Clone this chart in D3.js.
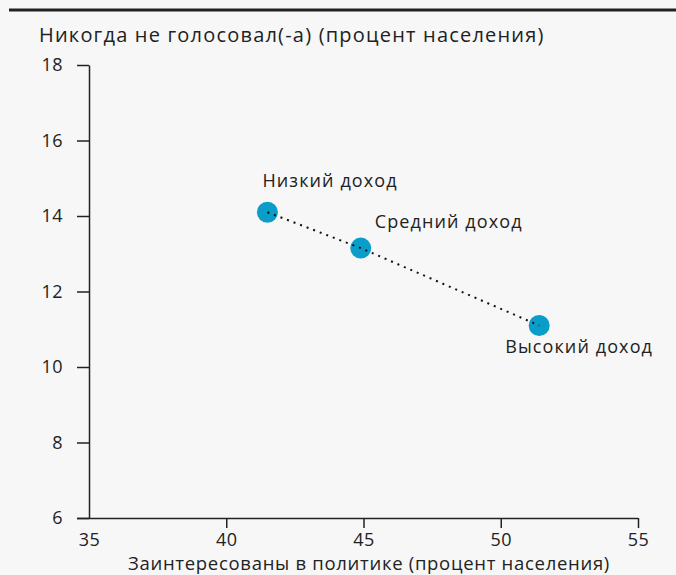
<!DOCTYPE html>
<html>
<head>
<meta charset="utf-8">
<script src="https://cdn.jsdelivr.net/npm/d3@7"></script>
<style>
  body { margin: 0; background: #f7f7f7; }
  svg { display: block; font-family: 'Open Sans', sans-serif; }
</style>
</head>
<body>
<div id="chart"></div>
<script>
const groups = ['Низкий доход', 'Средний доход', 'Высокий доход']
const interested = [41.5, 44.9, 51.4]
const neverVoted = [14.1, 13.15, 11.1]
const xTicks = [35, 40, 45, 50, 55]
const yTicks = [6, 8, 10, 12, 14, 16, 18]

const width = 676
const height = 575
const margin = { top: 65, left: 89, right: 38, bottom: 57 }

const svg = d3
  .select('#chart')
  .append('svg')
  .attr('width', width)
  .attr('height', height)

svg.append('rect').attr('width', width).attr('height', height).attr('fill', '#f7f7f7')

// top rule
svg
  .append('line')
  .attr('x1', 9)
  .attr('x2', width)
  .attr('y1', 10)
  .attr('y2', 10)
  .attr('stroke', '#222')
  .attr('stroke-width', 3)

const x = d3
  .scaleLinear()
  .domain([35, 55])
  .range([margin.left, width - margin.right])

const y = d3
  .scaleLinear()
  .domain([6, 18])
  .range([height - margin.bottom, margin.top])

const xAxis = svg
  .append('g')
  .attr('transform', `translate(0,${height - margin.bottom})`)
  .call(d3.axisBottom(x).tickValues(xTicks).tickSize(10).tickSizeOuter(0).tickPadding(5))

const yAxis = svg
  .append('g')
  .attr('transform', `translate(${margin.left},0)`)
  .call(d3.axisLeft(y).tickValues(yTicks).tickSize(12).tickSizeOuter(0).tickPadding(14))

;[xAxis, yAxis].forEach(a => {
  a.selectAll('path, line').attr('stroke', '#222').attr('stroke-width', 1.5)
  a.selectAll('text').attr('fill', '#222').style('font-size', '18px')
    .style('letter-spacing', '0.5px')
    .style('font-family', "'Open Sans', sans-serif")
})
xAxis.select('.domain').attr('d', `M${margin.left - 12},0.5H${width - margin.right}`)
// the y axis stands where the 35 tick would be
xAxis.selectAll('.tick line').filter(d => d === 35).remove()

const points = groups.map((g, i) => ({ name: g, x: interested[i], y: neverVoted[i] }))

const line = d3
  .line()
  .x(d => x(d.x))
  .y(d => y(d.y))

svg
  .selectAll('.dot')
  .data(points)
  .enter()
  .append('circle')
  .attr('cx', d => x(d.x))
  .attr('cy', d => y(d.y))
  .attr('r', 10.5)
  .attr('fill', '#0a9dc9')

svg
  .append('path')
  .datum(points)
  .attr('d', line)
  .attr('fill', 'none')
  .attr('stroke', '#111')
  .attr('stroke-width', 2)
  .attr('stroke-dasharray', '2,5')

const labelOffsets = [[-5, -25], [14, -20], [-34, 28]]

svg
  .selectAll('.label')
  .data(points)
  .enter()
  .append('text')
  .attr('x', (d, i) => x(d.x) + labelOffsets[i][0])
  .attr('y', (d, i) => y(d.y) + labelOffsets[i][1])
  .attr('fill', '#222')
  .style('font-size', '18px')
  .style('letter-spacing', '1.1px')
  .text(d => d.name)

svg
  .append('text')
  .attr('x', 39)
  .attr('y', 42)
  .attr('fill', '#222')
  .style('font-size', '20px')
  .style('letter-spacing', '1.2px')
  .text('Никогда не голосовал(-а) (процент населения)')

svg
  .append('text')
  .attr('x', 369)
  .attr('y', 570)
  .attr('text-anchor', 'middle')
  .attr('fill', '#222')
  .style('font-size', '18.5px')
  .style('letter-spacing', '0.7px')
  .text('Заинтересованы в политике (процент населения)')
</script>
</body>
</html>
